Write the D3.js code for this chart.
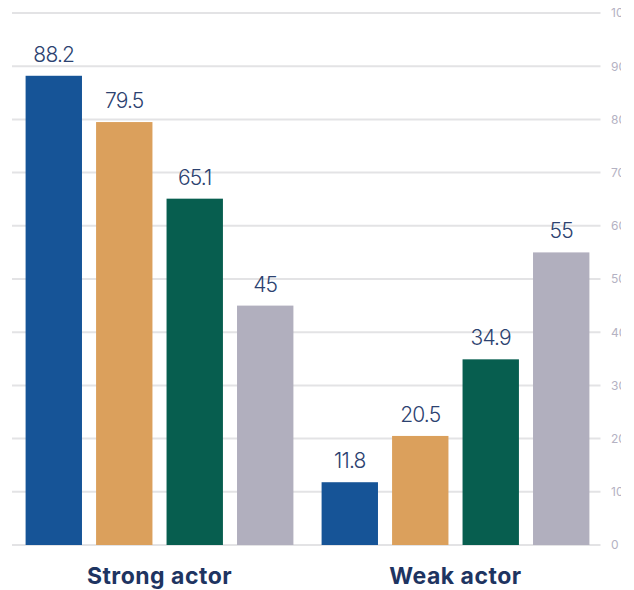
<!DOCTYPE html>
<html>
<head>
<meta charset="utf-8">
<script src="https://cdn.jsdelivr.net/npm/d3@7"></script>
<style>
  html, body { margin: 0; padding: 0; background: #fff; }
  #chart { width: 634px; height: 590px; overflow: hidden; }
  text { font-family: Inter, 'Liberation Sans', sans-serif; }
</style>
</head>
<body>
<div id="chart"></div>
<script>
const groups = ['Strong actor', 'Weak actor']
const seriesKeys = ['s1', 's2', 's3', 's4']
const s1Values = [88.2, 11.8]
const s2Values = [79.5, 20.5]
const s3Values = [65.1, 34.9]
const s4Values = [45, 55]
const seriesColors = ['#165497', '#dba05c', '#075e4f', '#b1afbe']
const yTicks = [0, 10, 20, 30, 40, 50, 60, 70, 80, 90, 100]

const allValues = [s1Values, s2Values, s3Values, s4Values]

// build rows for each group
const data = groups.map((g, i) => ({
  group: g,
  values: seriesKeys.map((k, j) => ({ key: k, value: allValues[j][i], color: seriesColors[j] })),
}))

const width = 634
const height = 590

const svg = d3
  .select('#chart')
  .append('svg')
  .attr('width', width)
  .attr('height', height)

// the original is cut off a little before the right edge
svg
  .append('clipPath')
  .attr('id', 'cut')
  .append('rect')
  .attr('x', 0)
  .attr('y', 0)
  .attr('width', 621)
  .attr('height', height)

const root = svg.append('g').attr('clip-path', 'url(#cut)')

// scales
const x0 = d3.scaleBand().domain(groups).range([11.5, 603.5]).padding(0)
const x1 = d3
  .scaleBand()
  .domain(seriesKeys)
  .range([0, x0.bandwidth()])
  .paddingInner(0.2)
  .paddingOuter(0.2)
const y = d3.scaleLinear().domain([0, 100]).range([545, 13])

// gridlines
root
  .append('g')
  .attr('class', 'grid')
  .selectAll('line')
  .data(yTicks)
  .join('line')
  .attr('x1', 12)
  .attr('x2', 600.5)
  .attr('y1', (d) => y(d))
  .attr('y2', (d) => y(d))
  .attr('stroke', '#e3e3e5')
  .attr('stroke-width', 2)

// right axis labels
const yAxis = root
  .append('g')
  .attr('transform', 'translate(600,0)')
  .call(d3.axisRight(y).tickValues(yTicks).tickSize(0).tickPadding(11))
yAxis.select('.domain').remove()
yAxis
  .selectAll('text')
  .attr('fill', '#b4b2c3')
  .style('font-size', '12px')

// bars
const groupG = root
  .append('g')
  .selectAll('g')
  .data(data)
  .join('g')
  .attr('transform', (d) => `translate(${x0(d.group)},0)`)

groupG
  .selectAll('rect')
  .data((d) => d.values)
  .join('rect')
  .attr('x', (d) => x1(d.key))
  .attr('y', (d) => y(d.value))
  .attr('width', x1.bandwidth())
  .attr('height', (d) => y(0) - y(d.value))
  .attr('fill', (d) => d.color)

// value labels
groupG
  .selectAll('.value-label')
  .data((d) => d.values)
  .join('text')
  .attr('class', 'value-label')
  .attr('x', (d) => x1(d.key) + x1.bandwidth() / 2)
  .attr('y', (d) => y(d.value) - 14)
  .attr('text-anchor', 'middle')
  .attr('fill', '#2c4270')
  .style('font-size', '21px')
  .style('letter-spacing', '-0.8px')
  .style('font-weight', 300)
  .text((d) => d.value)

// category labels
root
  .append('g')
  .selectAll('text')
  .data(groups)
  .join('text')
  .attr('x', (d) => x0(d) + x0.bandwidth() / 2)
  .attr('y', 584)
  .attr('text-anchor', 'middle')
  .attr('fill', '#1e3461')
  .style('font-size', '23px')
  .style('font-weight', 700)
  .style('letter-spacing', '0.5px')
  .text((d) => d)
</script>
</body>
</html>
